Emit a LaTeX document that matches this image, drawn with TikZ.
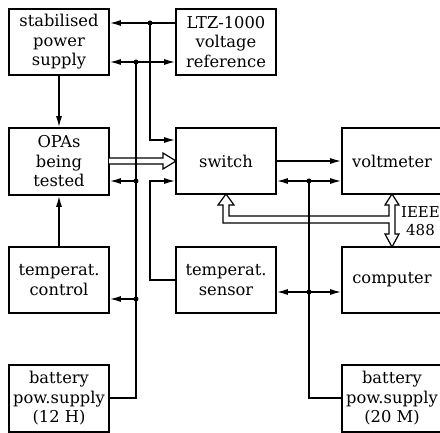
\documentclass[tikz,border=0pt]{standalone}
\usepackage{fontspec}
\setmainfont{DejaVu Serif}
\usetikzlibrary{arrows.meta}
\begin{document}
\begin{tikzpicture}[x=1pt,y=-1pt,
  box/.style={draw=black,line width=1.7pt,minimum width=100pt,minimum height=66pt,inner sep=0pt,align=center,font=\fontsize{16.3}{19.5}\selectfont},
  ln/.style={line width=1.4pt},
  arr/.style={ln,-{Latex[length=11pt,width=6pt]}},
  hol/.style={line width=1.2pt,fill=white,line join=miter},
  dot/.style={circle,fill=black,inner sep=0pt,minimum size=5pt}]
\clip (0,0) rectangle (440,433);
\fill[white] (0,0) rectangle (440,433);
% boxes
\node[box] (stab) at (59,42) {stabilised\\power\\supply};
\node[box] (ltz) at (226,42) {LTZ-1000\\voltage\\reference};
\node[box,minimum height=67pt] (opas) at (59,161.5) {OPAs\\being\\tested};
\node[box] (sw) at (226,161) {switch};
\node[box] (volt) at (392,161) {voltmeter};
\node[box] (tc) at (59,280) {temperat.\\control};
\node[box] (sens) at (226,280) {temperat.\\sensor};
\node[box] (comp) at (392,280) {computer};
\node[box,minimum height=67pt] (bat12) at (59,398.5) {battery\\pow.supply\\(12 H)};
\node[box,minimum height=67pt] (bat20) at (392,398.5) {battery\\pow.supply\\(20 M)};
\node[align=center,inner sep=0pt,font=\fontsize{15}{18}\selectfont] (ieee) at (420.5,221) {IEEE\\488};
% junction coordinates
\coordinate (d1) at (150,23);
\coordinate (d2) at (136,62);
\coordinate (d3) at (136,181);
\coordinate (d4) at (136,299);
\coordinate (c1) at (150,140);
\coordinate (c2) at (150,181);
\coordinate (c3) at (150,280);
\coordinate (c4) at (136,398);
\coordinate (d5) at (309,181);
\coordinate (d6) at (309,292);
\coordinate (c5) at (309,398);
% hollow arrows
\draw[hol] (109,158) -- (163,158) -- (163,153) -- (176,161) -- (163,169) -- (163,164) -- (109,164);
\draw[hol] (226,194) -- (234,205) -- (229,205) -- (229,216) -- (389,216) -- (389,205) -- (385,205)
  -- (392,194) -- (399,205) -- (395,205) -- (395,234) -- (399,234) -- (392,247) -- (385,234)
  -- (389,234) -- (389,223) -- (223,223) -- (223,205) -- (218,205) -- cycle;
% connectors
\draw[arr] (ltz.west |- d1) -- (stab.east |- d1);
\draw[arr] (d1) -- (c1) -- (sw.west |- c1);
\draw[arr] (d2) -- (stab.east |- d2);
\draw[arr] (d2) -- (ltz.west |- d2);
\draw[ln] (d2) -- (c4) -- (bat12.east |- c4);
\draw[arr] (d3) -- (opas.east |- d3);
\draw[arr] (d4) -- (tc.east |- d4);
\draw[arr] (sens.west |- c3) -- (c3) -- (c2) -- (sw.west |- c2);
\draw[arr] (stab.south) -- (opas.north);
\draw[arr] (tc.north) -- (opas.south);
\draw[arr] (sw.east) -- (volt.west);
\draw[arr] (d5) -- (sw.east |- d5);
\draw[arr] (d5) -- (volt.west |- d5);
\draw[arr] (d6) -- (sens.east |- d6);
\draw[arr] (d6) -- (comp.west |- d6);
\draw[ln] (d5) -- (c5) -- (bat20.west |- c5);
\foreach \p in {d1,d2,d3,d4,d5,d6} \node[dot] at (\p) {};
\end{tikzpicture}
\end{document}
